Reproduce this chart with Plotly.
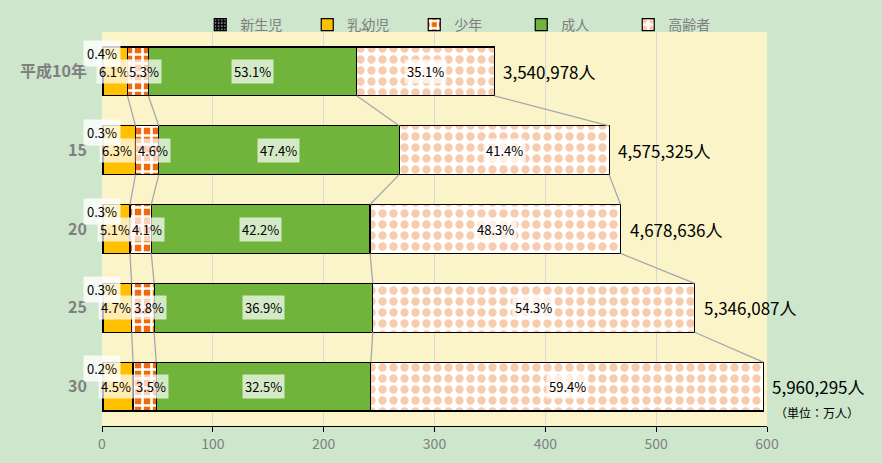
import plotly.graph_objects as go

years = ["平成10年", "15", "20", "25", "30"]
totals_people = [3540978, 4575325, 4678636, 5346087, 5960295]
groups = ["新生児", "乳幼児", "少年", "成人", "高齢者"]
pct_newborn = [0.4, 0.3, 0.3, 0.3, 0.2]
pct_infant = [6.1, 6.3, 5.1, 4.7, 4.5]
pct_youth = [5.3, 4.6, 4.1, 3.8, 3.5]
pct_adult = [53.1, 47.4, 42.2, 36.9, 32.5]
pct_elderly = [35.1, 41.4, 48.3, 54.3, 59.4]
x_ticks = [0, 100, 200, 300, 400, 500, 600]

FONT = "Noto Sans CJK JP"
pcts = [pct_newborn, pct_infant, pct_youth, pct_adult, pct_elderly]
totals_man = [t / 10000 for t in totals_people]
ypos = list(range(len(years)))
BAR_W = 0.62

styles = [
    dict(color="black", pattern=dict(shape=".", fgcolor="white", bgcolor="black", size=4, solidity=0.3)),
    dict(color="#FFC000"),
    dict(color="#F0690A", pattern=dict(shape="+", fgcolor="white", bgcolor="#F0690A", size=9, solidity=0.5, fillmode="replace")),
    dict(color="#70B43C"),
    dict(color="#F8CBAD", pattern=dict(shape=".", fgcolor="#F8CBAD", bgcolor="white", size=11, solidity=0.45, fillmode="replace")),
]

seg_vals = [[totals_man[i] * p[i] / 100 for i in range(len(years))] for p in pcts]

fig = go.Figure()
for g, vals, st in zip(groups, seg_vals, styles):
    m = dict(line=dict(color="black", width=1.2))
    m.update(st)
    fig.add_trace(go.Bar(
        y=ypos, x=vals, orientation="h", name=g, width=BAR_W,
        marker=m, hoverinfo="skip",
    ))

# cumulative boundaries
cums = []
for i in range(len(years)):
    c = 0
    row = []
    for k in range(len(groups)):
        c += seg_vals[k][i]
        row.append(c)
    cums.append(row)

# connector lines (after 乳幼児, 少年, 成人, total)
for k in [1, 2, 3, 4]:
    for i in range(len(years) - 1):
        fig.add_trace(go.Scatter(
            x=[cums[i][k], cums[i + 1][k]],
            y=[i + BAR_W / 2, i + 1 - BAR_W / 2],
            mode="lines", line=dict(color="#A6A6B0", width=1.3),
            showlegend=False, hoverinfo="skip",
        ))

ann = []
lab_font = dict(family=FONT, size=13, color="black")
for i in range(len(years)):
    start = 0
    for k in range(len(groups)):
        end = cums[i][k]
        mid = (start + end) / 2
        txt = f"{pcts[k][i]:.1f}%"
        if k == 0:
            ann.append(dict(x=0, y=i, xref="x", yref="y", text=txt, showarrow=False,
                            xanchor="center", yshift=18, font=lab_font,
                            bgcolor="rgba(255,255,255,0.8)", borderpad=3))
        else:
            xs = {1: -2, 2: 6}.get(k, 0)
            ann.append(dict(x=mid, y=i, xref="x", yref="y", text=txt, showarrow=False,
                            xanchor="center", xshift=xs, font=lab_font,
                            bgcolor="rgba(255,255,255,0.7)", borderpad=2))
        start = end
    ann.append(dict(x=cums[i][-1], y=i, xref="x", yref="y",
                    text=f"{totals_people[i]:,}人", showarrow=False,
                    xanchor="left", xshift=7, font=dict(family=FONT, size=17, color="black")))

ann.append(dict(x=600, y=len(years) - 1, xref="x", yref="y", text="（単位：万人）",
                showarrow=False, xanchor="left", xshift=6, yshift=-26,
                font=dict(family=FONT, size=12, color="black")))

fig.update_layout(
    width=882, height=463,
    barmode="stack",
    paper_bgcolor="#CDE6CC",
    plot_bgcolor="#FAF4C8",
    margin=dict(l=102, r=115, t=32, b=37, autoexpand=False),
    font=dict(family=FONT),
    annotations=ann,
    legend=dict(orientation="h", x=0.55, xanchor="center",
                y=1 - 9 / 394, yanchor="bottom",
                font=dict(family=FONT, size=14, color="#7F7F7F"),
                bgcolor="rgba(0,0,0,0)", itemwidth=30, traceorder="normal",
                entrywidth=62),
    xaxis=dict(range=[0, 600], tickvals=x_ticks, showgrid=True, gridcolor="#D9D9D9",
               gridwidth=1, zeroline=False, showline=True, linecolor="black", linewidth=1,
               ticks="outside", ticklen=5, tickcolor="black",
               tickfont=dict(family=FONT, size=14, color="#808080")),
    yaxis=dict(range=[len(years) - 0.5, -0.5], tickvals=ypos, ticktext=years,
               showgrid=False, zeroline=False, showline=False, ticks="",
               ticklabelstandoff=14,
               tickfont=dict(family=FONT, size=16, color="#808080", weight="bold")),
)

fig.write_html("out.html")
